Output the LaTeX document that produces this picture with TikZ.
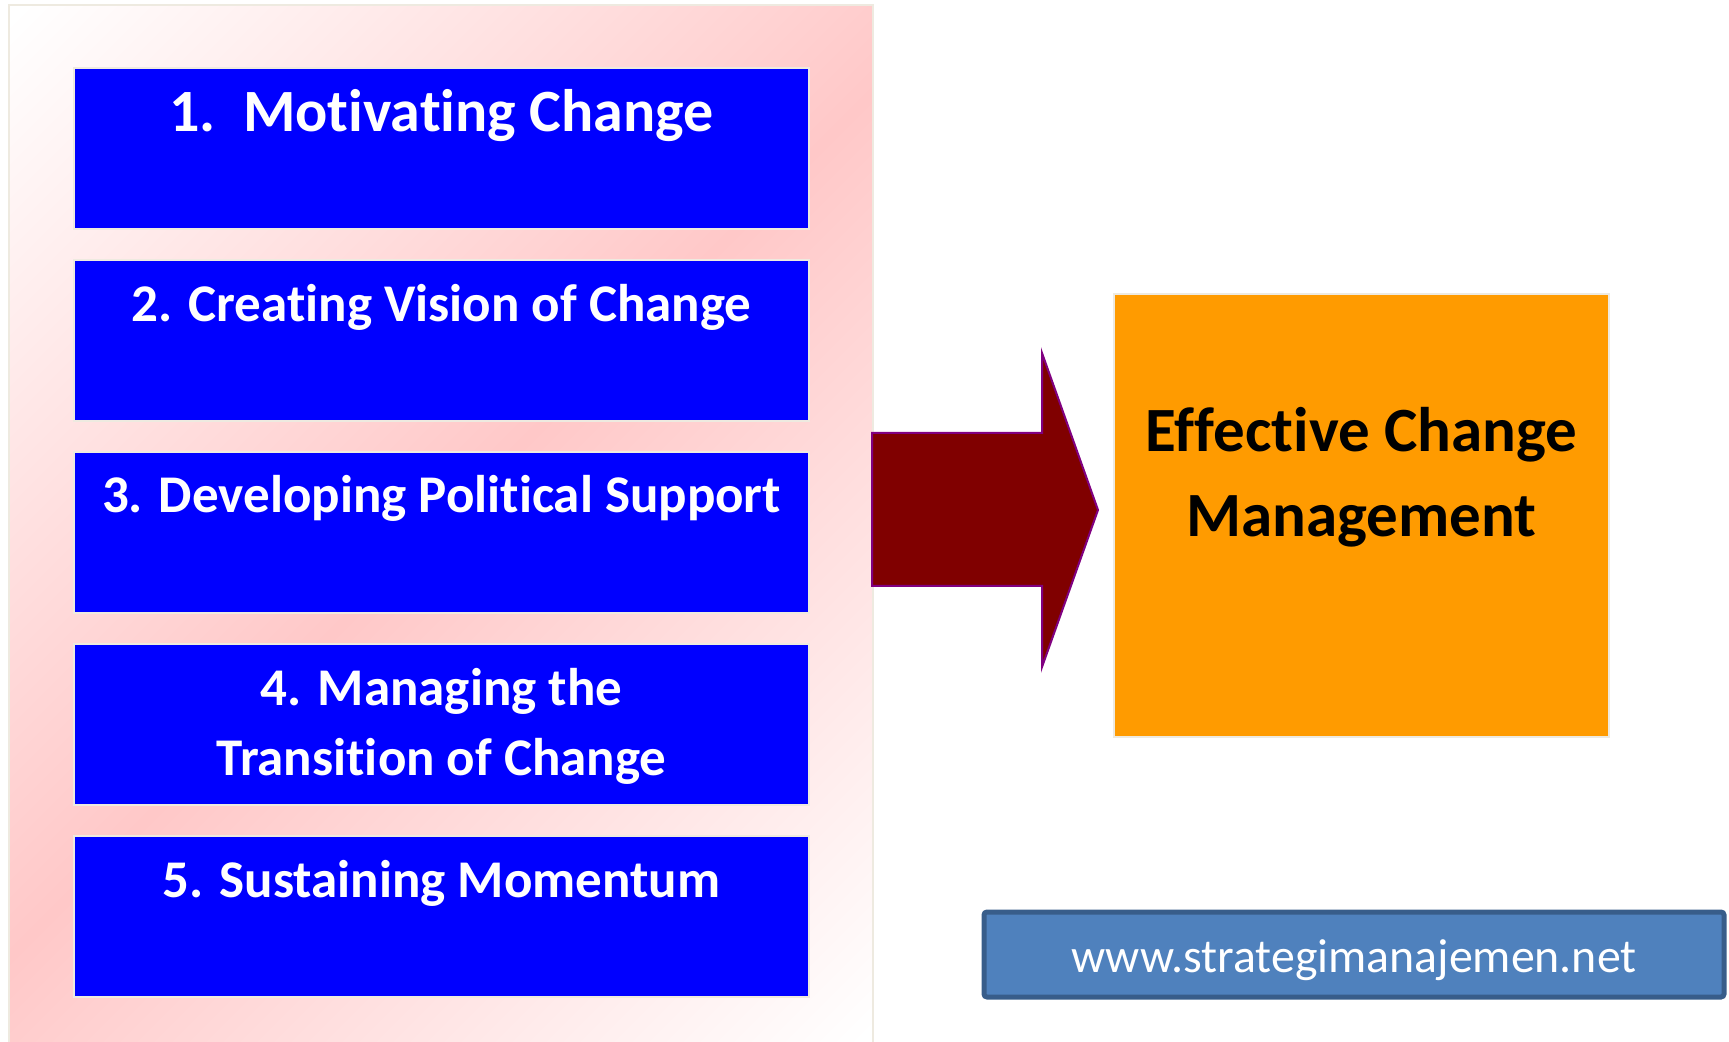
\documentclass[tikz,border=0pt]{standalone}
\usepackage{fontspec}
\setmainfont{Carlito}[Ligatures=NoCommon]
\usetikzlibrary{positioning}

\definecolor{panelpink}{RGB}{255,200,200}
\definecolor{panelrim}{RGB}{238,234,224}
\definecolor{stepblue}{RGB}{0,0,255}
\definecolor{goalorange}{RGB}{255,155,0}
\definecolor{arrowred}{RGB}{128,0,0}
\definecolor{arrowrim}{RGB}{128,0,128}
\definecolor{webfill}{RGB}{79,129,189}
\definecolor{webrim}{RGB}{56,93,138}

\pgfdeclareverticalshading{panelglow}{100bp}{color(0bp)=(white); color(15bp)=(white);
  color(50bp)=(panelpink); color(85bp)=(white); color(100bp)=(white)}

\begin{document}
\begin{tikzpicture}[x=1pt, y=1pt, node distance=15.5pt,
    panel/.style={draw=panelrim, line width=1.2pt, shading=panelglow, shading angle=45,
      minimum width=432pt, minimum height=520pt},
    stepbox/.style={draw=panelrim, line width=1pt, fill=stepblue, inner sep=0pt, outer sep=0pt,
      minimum width=367.5pt, minimum height=80.5pt},
    steptext/.style={text=white, font=\bfseries\fontsize{26.5}{35}\selectfont,
      align=center, inner sep=0pt, anchor=base},
    goalbox/.style={draw=panelrim, line width=0.8pt, fill=goalorange,
      minimum width=247.5pt, minimum height=221.5pt},
    goaltext/.style={font=\bfseries\fontsize{31.5}{42.5}\selectfont,
      align=center, inner sep=0pt, anchor=base},
    webbox/.style={draw=webrim, line width=2.5pt, fill=webfill, rounded corners=1.5pt,
      text=white, font=\fontsize{23.9}{28}\selectfont, text height=20pt, text depth=2.5pt,
      minimum width=370pt, minimum height=42.5pt}]
  \useasboundingbox (0,0) rectangle (864.5,-521);
  \clip (0,0) rectangle (864.5,-521);

  \node[panel] (panel) at (220.5,-262.5) {};

  % the five steps
  \node[stepbox] (s1) at (220.75,-74.25) {};
  \node[stepbox] (s2) [below=of s1] {};
  \node[stepbox] (s3) [below=of s2] {};
  \node[stepbox] (s4) [below=of s3] {};
  \node[stepbox] (s5) [below=of s4] {};
  \node[steptext, font=\bfseries\fontsize{30}{35}\selectfont] (t1)
    at ([yshift=-32pt]s1.north) {1.\ \ Motivating Change};
  \node[steptext] (t2) at ([yshift=-31pt]s2.north) {2. Creating Vision of Change};
  \node[steptext] (t3) at ([yshift=-30.5pt]s3.north) {3. Developing Political Support};
  \node[steptext] (t4) at ([yshift=-65.5pt]s4.north) {4. Managing the\\Transition of Change};
  \node[steptext] (t5) at ([yshift=-30.5pt]s5.north) {5. Sustaining Momentum};

  % big arrow
  \filldraw[draw=arrowrim, fill=arrowred, line width=1pt]
    (436,-216.5) -- (521,-216.5) -- (521,-176.5) -- (549,-255)
    -- (521,-333.5) -- (521,-293) -- (436,-293) -- cycle;

  \node[goalbox] (goal) at (680.75,-257.75) {};
  \node[goaltext] (gt) at ([yshift=-121.5pt]goal.north) {Effective Change\\Management};

  \node[webbox] (web) at (677,-477.25) {www.strategimanajemen.net};
\end{tikzpicture}
\end{document}
